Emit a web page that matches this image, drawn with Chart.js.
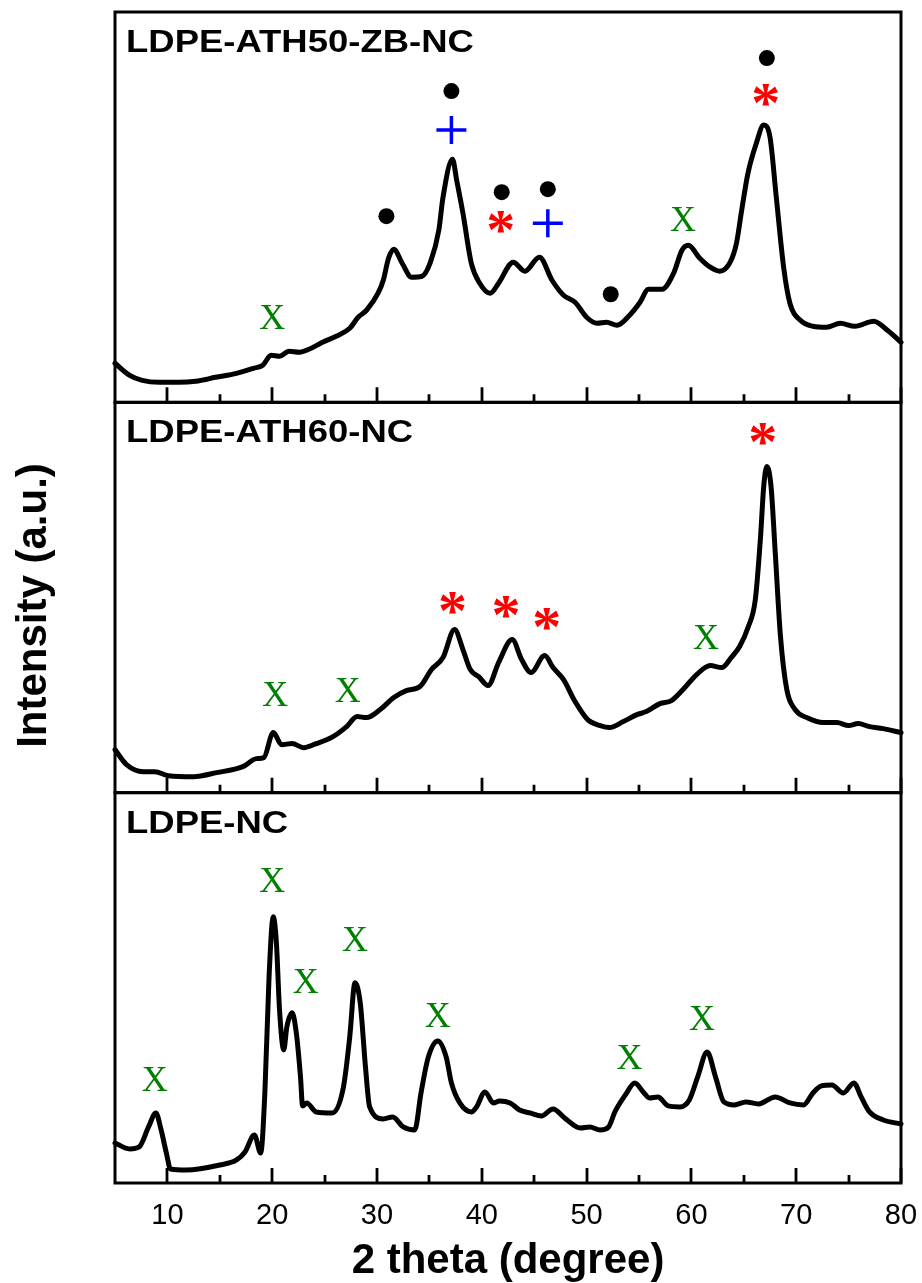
<!DOCTYPE html>
<html>
<head>
<meta charset="utf-8">
<title>XRD patterns</title>
<script src="https://cdn.jsdelivr.net/npm/chart.js@4.4.1/dist/chart.umd.min.js"></script>
<style>
  html, body { margin: 0; padding: 0; background: #ffffff; }
  #wrap { position: relative; width: 922px; height: 1283px; }
</style>
</head>
<body>
<div id="wrap"><canvas id="xrd"></canvas></div>
<script>
// ---- 2-theta axis ----
const xMin = 5;
const xMax = 80;
const xMajorTicks = [10, 20, 30, 40, 50, 60, 70, 80];
const xMinorTicks = [15, 25, 35, 45, 55, 65, 75];

// ---- LDPE-ATH50-ZB-NC (top panel) ----
const ath50Theta = [5.0, 6.4, 7.6, 9.2, 11.1, 12.7, 14.6, 16.6, 18.2, 19.1, 19.9, 20.7, 21.6, 22.6, 23.5, 24.8, 26.1, 27.4, 28.2, 29.0, 30.1, 30.6, 31.1, 31.6, 32.4, 33.3, 34.3, 35.1, 35.9, 36.3, 37.2, 37.6, 38.2, 39.0, 39.8, 40.8, 41.6, 43.0, 44.1, 45.5, 46.7, 47.8, 48.9, 50.0, 51.0, 51.9, 52.9, 54.1, 55.1, 55.9, 57.2, 58.3, 59.1, 59.7, 60.8, 61.8, 62.7, 63.7, 64.3, 64.8, 65.4, 66.2, 66.9, 67.5, 68.1, 68.8, 69.4, 70.4, 71.6, 72.9, 74.2, 75.6, 77.4, 78.7, 80.0];
const ath50Intensity = [39, 27, 22, 20, 20, 21, 25, 29, 34, 37, 47, 46, 51, 50, 53, 60, 66, 74, 85, 92, 109, 122, 144, 153, 139, 125, 126, 140, 172, 205, 243, 222, 189, 139, 119, 109, 119, 140, 131, 145, 122, 107, 100, 85, 79, 80, 77, 87, 100, 113, 113, 129, 152, 157, 144, 135, 131, 140, 159, 192, 229, 259, 277, 265, 205, 135, 99, 82, 76, 75, 79, 76, 81, 72, 60];
const ath50MarkTheta = [20.0, 30.9, 37.1, 37.1, 41.9, 41.8, 46.3, 46.3, 52.3, 59.2, 67.1, 67.2];
const ath50MarkLevel = [85, 186, 311, 272, 210, 180, 213, 179, 108, 183, 307, 344];
const ath50MarkKind  = ['x', 'dot', 'dot', 'plus', 'dot', 'star', 'dot', 'plus', 'dot', 'x', 'star', 'dot'];

// ---- LDPE-ATH60-NC (middle panel) ----
const ath60Theta = [5.0, 6.1, 7.7, 8.8, 10.1, 12.5, 14.7, 17.2, 18.5, 19.2, 20.1, 20.9, 21.9, 23.0, 24.2, 25.8, 27.1, 28.1, 29.0, 30.3, 31.6, 32.8, 34.1, 35.2, 36.3, 37.4, 38.2, 38.9, 39.7, 40.6, 41.6, 42.9, 43.8, 44.7, 46.0, 46.8, 47.8, 48.9, 50.1, 51.3, 52.2, 53.5, 54.8, 55.7, 57.0, 58.1, 59.2, 60.5, 61.8, 62.9, 63.8, 64.6, 65.4, 66.1, 66.6, 66.9, 67.2, 67.6, 68.0, 68.5, 69.1, 69.9, 71.0, 72.6, 73.9, 75.0, 75.9, 77.0, 78.3, 80.0];
const ath60Intensity = [43, 28, 21, 21, 17, 16, 20, 26, 34, 35, 60, 48, 49, 45, 49, 56, 66, 76, 75, 83, 95, 102, 106, 123, 135, 163, 143, 123, 116, 107, 130, 153, 133, 120, 137, 125, 113, 91, 73, 67, 65, 71, 78, 81, 89, 92, 103, 118, 127, 125, 135, 146, 165, 193, 256, 306, 326, 306, 240, 156, 103, 83, 75, 70, 70, 67, 69, 66, 64, 60];
const ath60MarkTheta = [20.3, 27.2, 37.2, 42.3, 46.2, 61.4, 66.8];
const ath60MarkLevel = [99, 103, 190, 186, 174, 156, 358];
const ath60MarkKind  = ['x', 'x', 'star', 'star', 'star', 'x', 'star'];

// ---- LDPE-NC (bottom panel) ----
const ncTheta = [5.0, 6.4, 7.3, 8.2, 8.9, 9.4, 9.9, 10.3, 11.8, 15.0, 16.6, 17.4, 18.3, 18.9, 19.3, 19.7, 20.1, 20.4, 20.7, 21.1, 21.4, 21.9, 22.3, 22.7, 22.9, 23.3, 24.2, 25.7, 26.8, 27.4, 27.9, 28.4, 28.9, 29.3, 30.6, 31.5, 32.5, 33.6, 34.2, 34.9, 35.8, 36.6, 37.1, 37.9, 39.0, 39.5, 40.3, 41.1, 41.7, 42.7, 43.6, 44.6, 45.7, 46.8, 47.9, 49.4, 50.3, 51.3, 52.1, 52.7, 53.7, 54.6, 55.4, 56.0, 56.8, 57.8, 58.9, 59.8, 60.6, 61.5, 62.3, 63.1, 64.1, 65.2, 66.4, 68.0, 69.4, 70.7, 71.6, 72.4, 73.4, 74.5, 75.5, 76.2, 77.0, 78.3, 80.0];
const ncIntensity = [40, 34, 36, 56, 70, 53, 30, 14, 13, 18, 23, 31, 48, 30, 90, 206, 266, 240, 173, 133, 156, 170, 150, 106, 77, 80, 71, 70, 96, 146, 200, 180, 116, 76, 64, 66, 56, 53, 90, 126, 142, 126, 100, 80, 71, 76, 91, 80, 82, 80, 73, 70, 67, 74, 65, 55, 56, 53, 56, 71, 88, 100, 91, 85, 86, 77, 76, 83, 106, 131, 106, 81, 78, 81, 79, 86, 80, 78, 90, 97, 98, 90, 100, 86, 71, 63, 59];
const ncMarkTheta = [8.8, 20.0, 23.2, 27.9, 35.8, 54.1, 61.0];
const ncMarkLevel = [104, 303, 202, 244, 168, 126, 165];
const ncMarkKind  = ['x', 'x', 'x', 'x', 'x', 'x', 'x'];

const intensityMax = 390;

const SANS = '"Liberation Sans", Arial, Helvetica, sans-serif';
const SERIF = '"Liberation Serif", "Times New Roman", serif';

function pairs(xs, ys) {
  return xs.map((x, i) => ({ x: x, y: ys[i] }));
}

// Panels from top to bottom
const panels = [
  { axis: 'yA', name: 'LDPE-ATH50-ZB-NC', theta: ath50Theta, intensity: ath50Intensity,
    markTheta: ath50MarkTheta, markLevel: ath50MarkLevel, markKind: ath50MarkKind },
  { axis: 'yB', name: 'LDPE-ATH60-NC', theta: ath60Theta, intensity: ath60Intensity,
    markTheta: ath60MarkTheta, markLevel: ath60MarkLevel, markKind: ath60MarkKind },
  { axis: 'yC', name: 'LDPE-NC', theta: ncTheta, intensity: ncIntensity,
    markTheta: ncMarkTheta, markLevel: ncMarkLevel, markKind: ncMarkKind }
];

function drawGlyph(ctx, text, font, color, cx, cy) {
  ctx.font = font;
  ctx.fillStyle = color;
  ctx.textAlign = 'left';
  ctx.textBaseline = 'alphabetic';
  const m = ctx.measureText(text);
  const w = m.actualBoundingBoxRight + m.actualBoundingBoxLeft;
  const h = m.actualBoundingBoxAscent + m.actualBoundingBoxDescent;
  const x0 = cx - w / 2 + m.actualBoundingBoxLeft;
  const y0 = cy - h / 2 + m.actualBoundingBoxAscent;
  ctx.fillText(text, x0, y0);
}

function drawMark(ctx, kind, cx, cy) {
  if (kind === 'dot') {
    ctx.fillStyle = '#000000';
    ctx.beginPath();
    ctx.arc(cx, cy, 8, 0, Math.PI * 2);
    ctx.fill();
  } else if (kind === 'plus') {
    ctx.strokeStyle = '#0000ff';
    ctx.lineWidth = 3.5;
    ctx.lineCap = 'butt';
    ctx.beginPath();
    ctx.moveTo(cx - 15, cy);
    ctx.lineTo(cx + 15, cy);
    ctx.moveTo(cx, cy - 14);
    ctx.lineTo(cx, cy + 14);
    ctx.stroke();
  } else if (kind === 'star') {
    drawGlyph(ctx, '*', 'bold 58px ' + SERIF, '#ff0000', cx, cy);
  } else {
    drawGlyph(ctx, 'X', '36px ' + SERIF, '#008000', cx, cy);
  }
}

// Frames, inward ticks, panel names, peak markers and the shared y title
const panelDecor = {
  id: 'panelDecor',
  afterDraw(chart) {
    const { ctx, chartArea, scales } = chart;
    const xs = scales.x;
    ctx.save();
    panels.forEach(p => {
      const ys = scales[p.axis];
      // inward tick marks along the panel bottom
      ctx.strokeStyle = '#000000';
      ctx.lineWidth = 2.8;
      ctx.lineCap = 'butt';
      ctx.beginPath();
      xMajorTicks.forEach(v => {
        const px = Math.round(xs.getPixelForValue(v));
        ctx.moveTo(px, ys.bottom);
        ctx.lineTo(px, ys.bottom - 15);
      });
      xMinorTicks.forEach(v => {
        const px = Math.round(xs.getPixelForValue(v));
        ctx.moveTo(px, ys.bottom);
        ctx.lineTo(px, ys.bottom - 8);
      });
      ctx.stroke();
      // panel frame
      ctx.lineWidth = 3;
      ctx.strokeRect(chartArea.left, ys.top, chartArea.right - chartArea.left, ys.bottom - ys.top);
      // panel name
      ctx.save();
      ctx.fillStyle = '#000000';
      ctx.font = 'bold 32px ' + SANS;
      ctx.textAlign = 'left';
      ctx.textBaseline = 'alphabetic';
      ctx.translate(chartArea.left + 11, ys.top + 40);
      ctx.scale(1.14, 1);
      ctx.fillText(p.name, 0, 0);
      ctx.restore();
      // peak markers
      p.markTheta.forEach((t, i) => {
        drawMark(ctx, p.markKind[i], xs.getPixelForValue(t), ys.getPixelForValue(p.markLevel[i]));
      });
    });
    // shared intensity title
    ctx.save();
    ctx.fillStyle = '#000000';
    ctx.font = 'bold 42px ' + SANS;
    ctx.textAlign = 'center';
    ctx.textBaseline = 'alphabetic';
    ctx.translate(46, (chartArea.top + chartArea.bottom) / 2 + 8);
    ctx.rotate(-Math.PI / 2);
    ctx.fillText('Intensity (a.u.)', 0, 0);
    ctx.restore();
    ctx.restore();
  }
};

function yAxis() {
  return {
    type: 'linear',
    position: 'left',
    stack: 'panels',
    stackWeight: 1,
    min: 0,
    max: intensityMax,
    display: false,
    grid: { display: false }
  };
}

const datasets = panels.map(p => ({
  label: p.name,
  data: pairs(p.theta, p.intensity),
  xAxisID: 'x',
  yAxisID: p.axis,
  borderColor: '#000000',
  borderWidth: 5,
  pointRadius: 0,
  fill: false,
  cubicInterpolationMode: 'monotone',
  borderJoinStyle: 'round',
  borderCapStyle: 'round',
  clip: 3
}));

new Chart(document.getElementById('xrd'), {
  type: 'line',
  data: { datasets: datasets },
  options: {
    responsive: true,
    maintainAspectRatio: false,
    devicePixelRatio: 1,
    animation: false,
    events: [],
    layout: { padding: { left: 115, right: 21, top: 12, bottom: 0 } },
    plugins: {
      legend: { display: false },
      tooltip: { enabled: false },
      title: { display: false }
    },
    scales: {
      x: {
        type: 'linear',
        position: 'bottom',
        min: xMin,
        max: xMax,
        afterBuildTicks: s => { s.ticks = xMajorTicks.map(v => ({ value: v })); },
        afterFit: s => { s.height = 100; s.paddingLeft = 0; s.paddingRight = 0; },
        grid: { display: false, drawTicks: false, tickLength: 0 },
        border: { display: false },
        ticks: {
          color: '#000000',
          font: { family: SANS, size: 29 },
          padding: 16,
          maxRotation: 0,
          autoSkip: false
        },
        title: {
          display: true,
          text: '2 theta (degree)',
          color: '#000000',
          font: { family: SANS, size: 42, weight: 'bold' },
          padding: { top: 0, bottom: -4 }
        }
      },
      yC: yAxis(),
      yB: yAxis(),
      yA: yAxis()
    }
  },
  plugins: [panelDecor]
});
</script>
</body>
</html>
